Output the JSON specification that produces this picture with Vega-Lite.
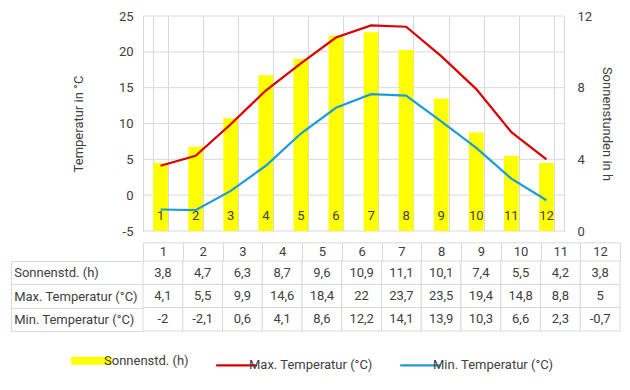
{
  "$schema": "https://vega.github.io/schema/vega-lite/v6.json",
  "padding": {"left": 10, "top": 10, "right": 5, "bottom": 5},
  "config": {
    "locale": {"number": {"decimal": ",", "thousands": ".", "grouping": [3], "currency": ["", " €"], "minus": "-"}},
    "font": "Roboto",
    "view": {"stroke": null},
    "axis": {"labelFont": "Roboto", "labelFontSize": 13, "labelColor": "#404040", "titleFont": "Roboto", "titleFontSize": 13, "titleFontWeight": "normal", "titleColor": "#404040", "gridColor": "#d9d9d9", "domainColor": "#d9d9d9", "tickColor": "#d9d9d9"},
    "legend": {"labelFont": "Roboto", "labelFontSize": 13, "labelColor": "#404040"}
  },
  "datasets": {
    "climate": [
      {"month": 1, "sun": 3.8, "tmax": 4.1, "tmin": -2},
      {"month": 2, "sun": 4.7, "tmax": 5.5, "tmin": -2.1},
      {"month": 3, "sun": 6.3, "tmax": 9.9, "tmin": 0.6},
      {"month": 4, "sun": 8.7, "tmax": 14.6, "tmin": 4.1},
      {"month": 5, "sun": 9.6, "tmax": 18.4, "tmin": 8.6},
      {"month": 6, "sun": 10.9, "tmax": 22, "tmin": 12.2},
      {"month": 7, "sun": 11.1, "tmax": 23.7, "tmin": 14.1},
      {"month": 8, "sun": 10.1, "tmax": 23.5, "tmin": 13.9},
      {"month": 9, "sun": 7.4, "tmax": 19.4, "tmin": 10.3},
      {"month": 10, "sun": 5.5, "tmax": 14.8, "tmin": 6.6},
      {"month": 11, "sun": 4.2, "tmax": 8.8, "tmin": 2.3},
      {"month": 12, "sun": 3.8, "tmax": 5, "tmin": -0.7}
    ],
    "gridlines": [{"h": 0}, {"h": 2}, {"h": 4}, {"h": 6}, {"h": 8}, {"h": 10}, {"h": 12}]
  },
  "spacing": 3,
  "vconcat": [
    {
      "width": 421,
      "height": 215,
      "layer": [
        {
          "layer": [
            {
              "data": {"name": "gridlines"},
              "mark": {"type": "rule", "color": "#d9d9d9", "strokeWidth": 1},
              "encoding": {"y": {"field": "h", "type": "quantitative"}}
            },
            {
              "data": {"name": "climate"},
              "mark": {"type": "bar"},
              "encoding": {
                "x": {"field": "month", "type": "ordinal", "scale": {"paddingInner": 0.58, "paddingOuter": 0.29},
                      "axis": {"orient": "bottom", "grid": true, "tickBand": "extent", "labels": false, "ticks": false, "domain": false, "title": null}},
                "y": {"field": "sun", "type": "quantitative", "scale": {"domain": [0, 12], "nice": false},
                      "axis": {"orient": "right", "values": [0, 2, 4, 6, 8, 10, 12], "title": "Sonnenstunden in h", "grid": false, "tickSize": 0, "labelPadding": 13, "titlePadding": 8, "labelOverlap": false}},
                "color": {"datum": "sun", "type": "nominal",
                          "scale": {"domain": ["sun", "tmax", "tmin"], "range": ["#ffff00", "#d80000", "#1f9bd7"]},
                          "legend": {"orient": "none", "legendX": -58, "legendY": 338, "direction": "horizontal", "title": null,
                                     "symbolType": "stroke", "symbolSize": 1650, "symbolStrokeWidth": 2.25, "columnPadding": 22, "labelOffset": 6,
                                     "labelExpr": "datum.value == 'sun' ? 'Sonnenstd. (h)' : datum.value == 'tmax' ? 'Max. Temperatur (°C)' : 'Min. Temperatur (°C)'",
                                     "encode": {"symbols": {"update": {"strokeWidth": {"signal": "datum.value === 'sun' ? 8 : 2.25"}, "stroke": {"scale": "color", "field": "value"}, "fill": {"value": "transparent"}}}}}}
              }
            }
          ]
        },
        {
          "data": {"name": "climate"},
          "transform": [{"fold": ["tmax", "tmin"], "as": ["series", "temp"]}],
          "mark": {"type": "line", "strokeWidth": 2.25},
          "encoding": {
            "x": {"field": "month", "type": "ordinal",
                  "axis": {"orient": "bottom", "offset": -35.83, "grid": false, "ticks": false, "tickSize": 0, "domain": false, "labelPadding": 20, "labelBaseline": "middle", "labelAngle": 0, "title": null, "zindex": 1}},
            "y": {"field": "temp", "type": "quantitative", "scale": {"domain": [-5, 25], "nice": false, "zero": false},
                  "axis": {"orient": "left", "values": [-5, 0, 5, 10, 15, 20, 25], "title": "Temperatur in °C", "grid": false, "tickSize": 0, "labelPadding": 10, "titlePadding": 33, "labelOverlap": false}},
            "color": {"field": "series", "type": "nominal", "legend": {"title": null}}
          }
        }
      ],
      "resolve": {"scale": {"y": "independent"}, "axis": {"x": "independent"}}
    },
    {
      "width": 477,
      "height": 70,
      "data": {"name": "climate"},
      "transform": [{"fold": ["sun", "tmax", "tmin"], "as": ["row", "value"]}],
      "encoding": {
        "x": {"field": "month", "type": "ordinal", "scale": {"paddingInner": 0, "paddingOuter": 0},
              "axis": {"orient": "top", "offset": 18.67, "tickBand": "extent", "tickSize": -18.67, "labelPadding": 9.37, "labelBaseline": "middle", "labelAngle": 0, "title": null}},
        "y": {"field": "row", "type": "nominal", "scale": {"domain": ["sun", "tmax", "tmin"], "paddingInner": 0, "paddingOuter": 0},
              "axis": {"orient": "left", "offset": 132, "tickBand": "extent", "tickSize": -132, "labelAlign": "left", "labelPadding": 129.3, "title": null,
                       "labelExpr": "datum.value == 'sun' ? 'Sonnenstd. (h)' : datum.value == 'tmax' ? 'Max. Temperatur (°C)' : datum.value == 'tmin' ? 'Min. Temperatur (°C)' : ''"}}
      },
      "layer": [
        {"mark": {"type": "rect", "fill": "white", "stroke": "#d9d9d9", "strokeWidth": 1}},
        {"mark": {"type": "text", "fontSize": 13, "color": "#404040", "font": "Roboto"},
         "encoding": {"text": {"field": "value", "type": "quantitative", "format": "~g"}}}
      ]
    }
  ]
}
